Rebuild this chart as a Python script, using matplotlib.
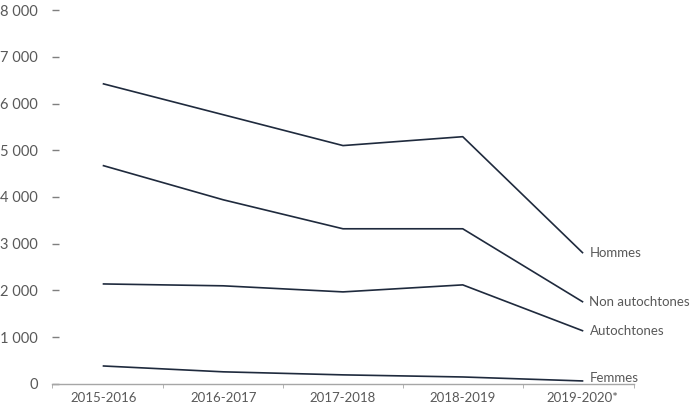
import matplotlib.pyplot as plt
from matplotlib.ticker import FuncFormatter

# Valeurs
periodes = ['2015-2016', '2016-2017', '2017-2018', '2018-2019', '2019-2020*']
hommes = [6420, 5760, 5100, 5290, 2810]
non_autochtones = [4670, 3940, 3320, 3320, 1760]
autochtones = [2140, 2100, 1970, 2120, 1140]
femmes = [385, 260, 195, 150, 65]

series = [('Hommes', hommes), ('Non autochtones', non_autochtones),
          ('Autochtones', autochtones), ('Femmes', femmes)]

plt.rcParams['font.family'] = ['Lato', 'DejaVu Sans']
grey = '#595959'
line_color = '#1f2a3d'

fig = plt.figure(figsize=(7, 4.12), dpi=100)
ax = fig.add_axes([0.0743, 0.068, 0.8314, 0.9077])

x = list(range(len(periodes)))
for name, values in series:
    ax.plot(x, values, color=line_color, linewidth=1.2)
    dy = 3 if name == 'Femmes' else 0
    ax.annotate(name, xy=(x[-1], values[-1]), xytext=(7, dy), textcoords='offset pixels',
                ha='left', va='center', fontsize=9.5, color=grey, annotation_clip=False)

ax.set_xlim(-0.43, 4.43)
ax.set_ylim(0, 8000)

# Axe des categories
ax.set_xticks(x)
ax.set_xticklabels(periodes, fontsize=9.5, color=grey)
ax.set_xticks([-0.43, 0.5, 1.5, 2.5, 3.5, 4.43], minor=True)
ax.tick_params(axis='x', which='major', length=0, pad=6)
ax.tick_params(axis='x', which='minor', length=3, color='#a6a6a6', direction='out')

# Axe des valeurs
ax.set_yticks(range(0, 8001, 1000))
ax.yaxis.set_major_formatter(FuncFormatter(lambda v, p: '{:,.0f}'.format(v).replace(',', ' ')))
ax.tick_params(axis='y', length=5, width=1, color='#7f7f7f', direction='in', pad=10, labelsize=10.5, labelcolor=grey)

for side in ['top', 'right', 'left']:
    ax.spines[side].set_visible(False)
ax.spines['bottom'].set_color('#a6a6a6')
ax.spines['bottom'].set_linewidth(1)

fig.savefig('out.png', dpi=100)
